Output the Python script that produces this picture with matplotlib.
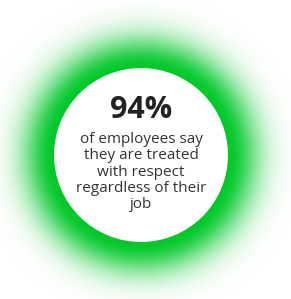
import matplotlib.pyplot as plt
import numpy as np
from matplotlib.patches import Circle

# figure content
share = 94
caption = ['of employees say', 'they are treated', 'with respect',
           'regardless of their', 'job']

glow_color = np.array([0, 200, 40]) / 255.0
width, height = 291, 299
cx, cy, radius = 141, 155, 87

fig = plt.figure(figsize=(width / 100, height / 100), dpi=100)
ax = fig.add_axes([0, 0, 1, 1])
ax.set_xlim(0, width)
ax.set_ylim(height, 0)
ax.axis('off')

# radial glow around the circle
yy, xx = np.mgrid[0:height, 0:width] + 0.5
d = np.hypot(xx - cx, yy - cy) - radius
alpha = np.exp(-(np.clip(d, 0, None) / 32.0) ** 2)
img = np.ones((height, width, 4))
img[..., :3] = glow_color
img[..., 3] = alpha
ax.imshow(img, extent=(0, width, height, 0), interpolation='bilinear')

ax.add_patch(Circle((cx, cy), radius, facecolor='white', edgecolor='none'))

ax.text(cx, 110, f'{share}%', ha='center', va='center', fontsize=22,
        fontweight='bold', color='#222222', family='Open Sans')
ax.text(cx, 172, '\n'.join(caption), ha='center', va='center', fontsize=11,
        color='#333333', family='Open Sans', linespacing=1.12)

fig.savefig('out.png', dpi=100)
